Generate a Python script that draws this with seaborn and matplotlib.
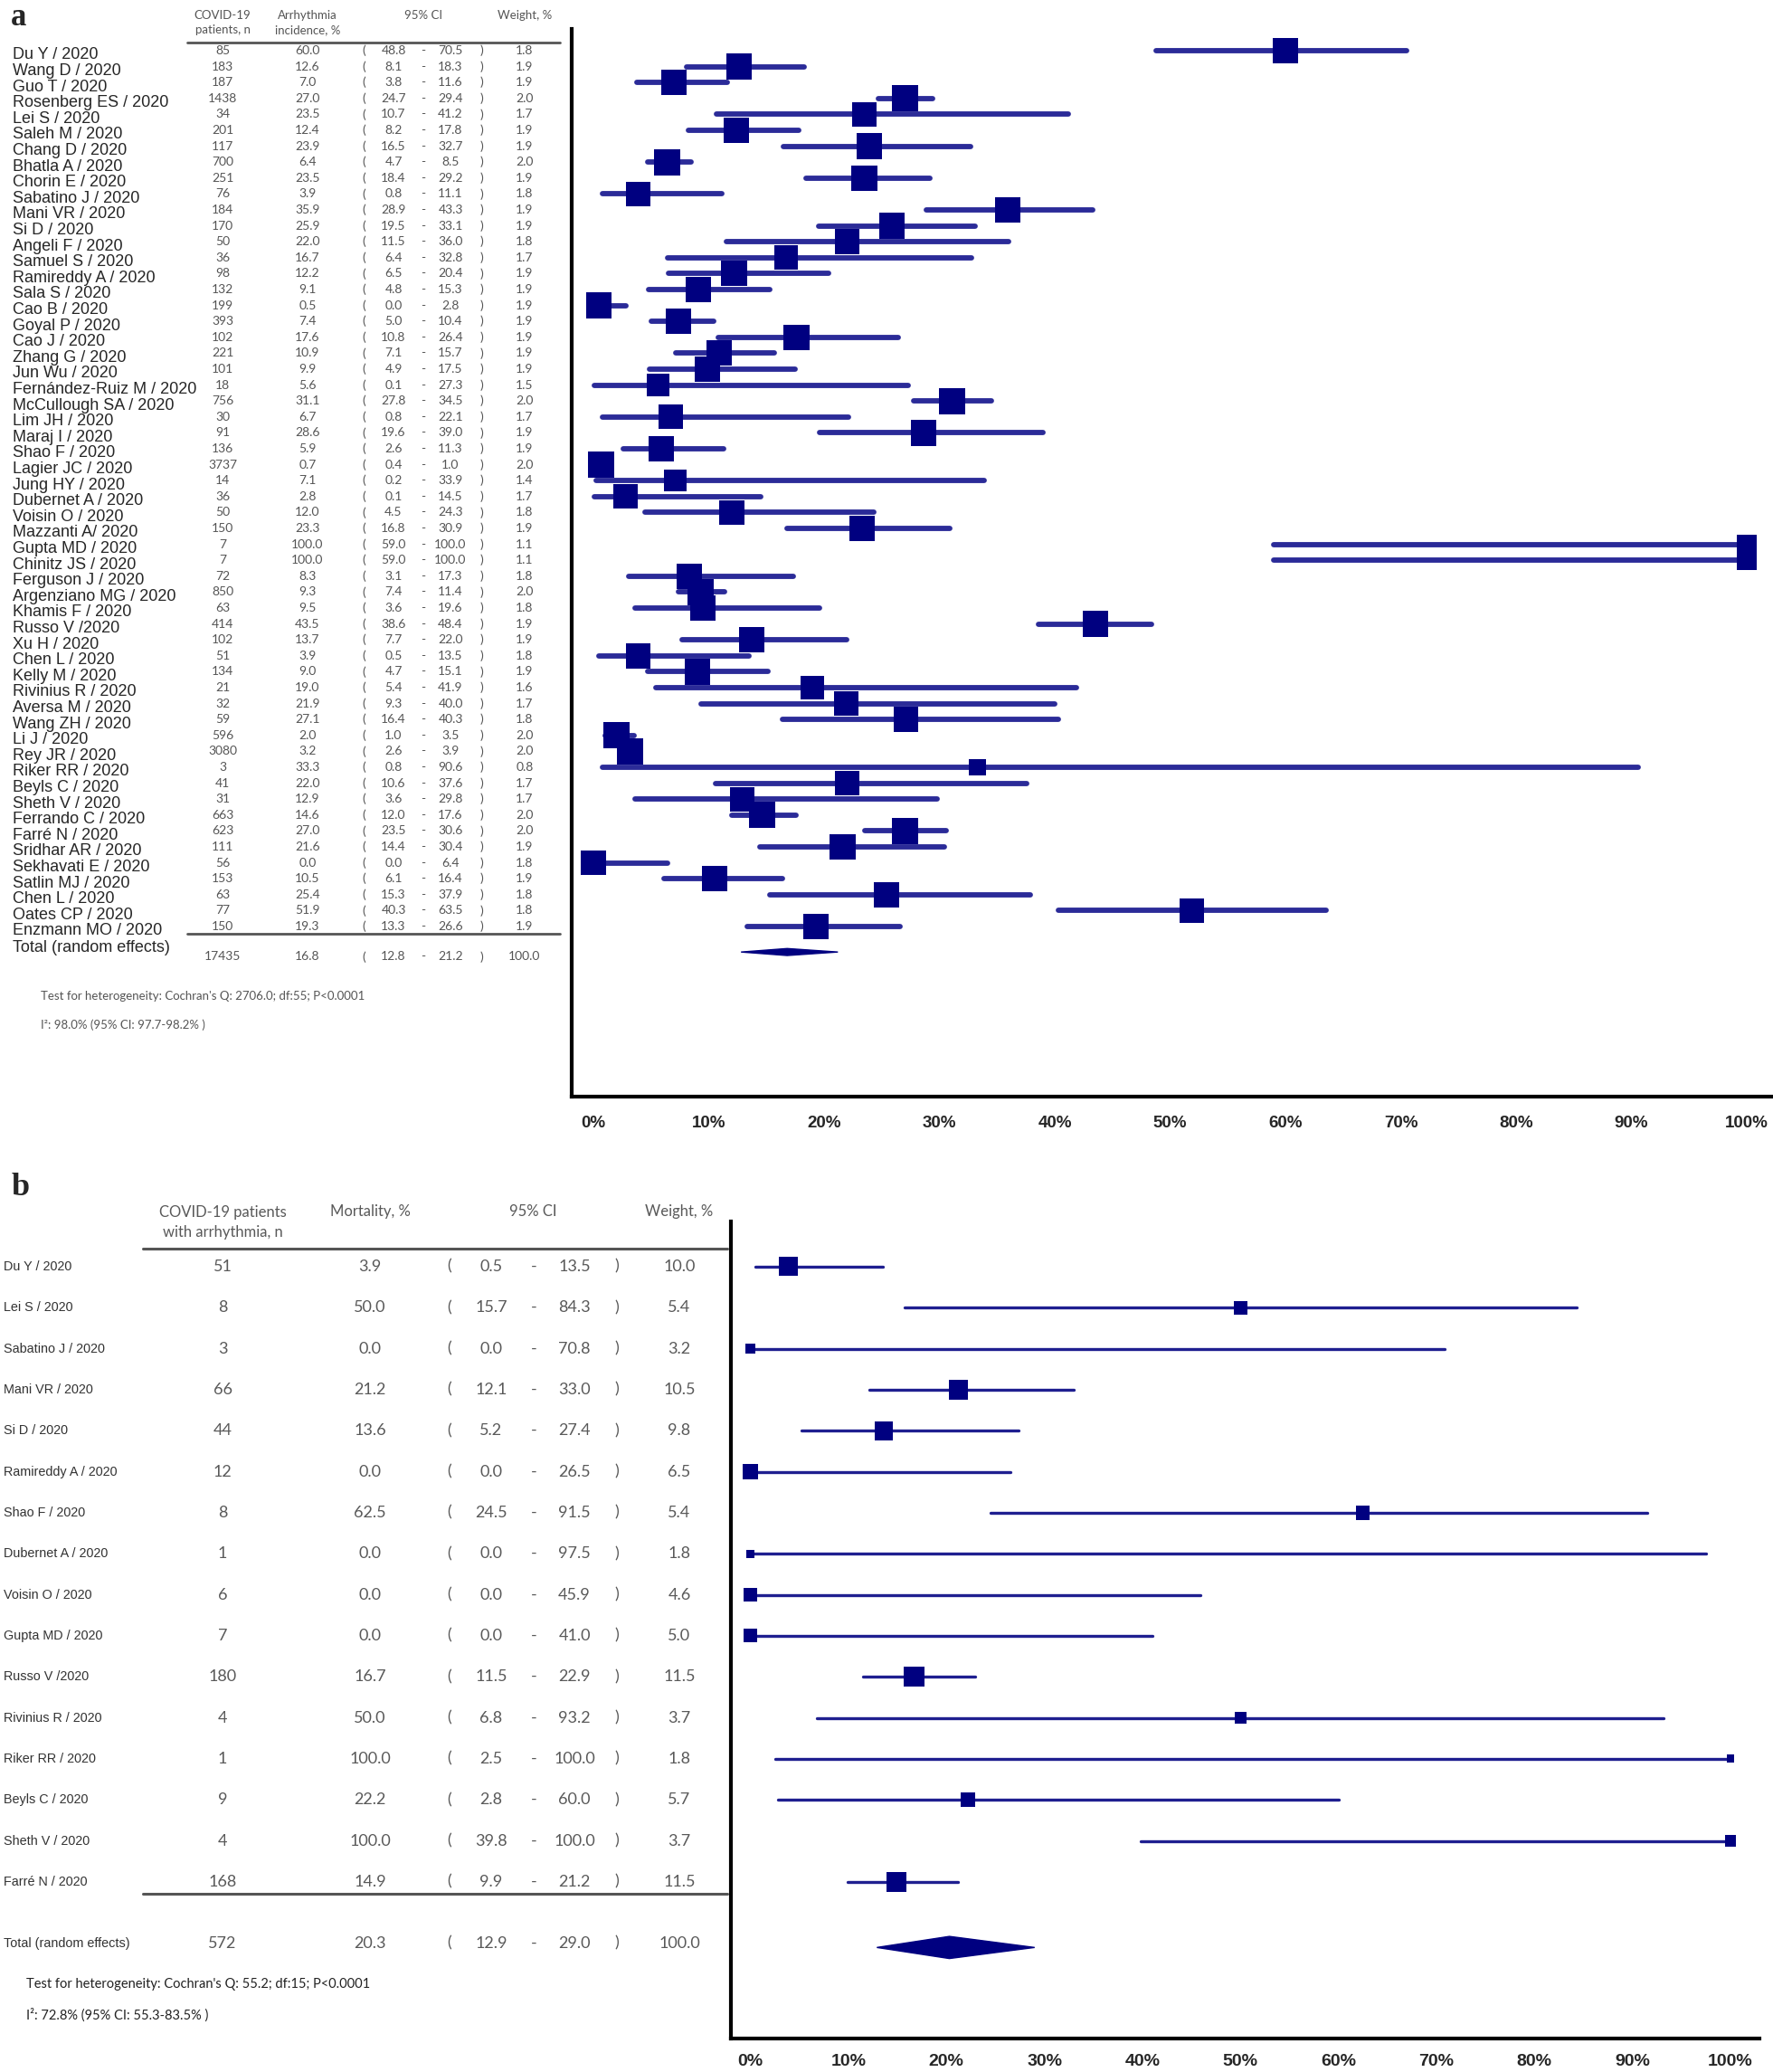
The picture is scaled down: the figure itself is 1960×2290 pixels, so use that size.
import numpy as np
import pandas as pd
import matplotlib
matplotlib.use("Agg")
import matplotlib.pyplot as plt
import matplotlib.transforms as mtransforms
from matplotlib import font_manager as fm
import seaborn as sns

# ------------------------------------------------------------------ data (panel a)
a_study = ["Du Y / 2020", "Wang D / 2020", "Guo T / 2020", "Rosenberg ES / 2020", "Lei S / 2020",
           "Saleh M / 2020", "Chang D / 2020", "Bhatla A / 2020", "Chorin E / 2020", "Sabatino J / 2020",
           "Mani VR / 2020", "Si D / 2020", "Angeli F / 2020", "Samuel S / 2020", "Ramireddy A / 2020",
           "Sala S / 2020", "Cao B / 2020", "Goyal P / 2020", "Cao J / 2020", "Zhang G / 2020",
           "Jun Wu / 2020", "Fernández-Ruiz M / 2020", "McCullough SA / 2020", "Lim JH / 2020",
           "Maraj I / 2020", "Shao F / 2020", "Lagier JC / 2020", "Jung HY / 2020", "Dubernet A / 2020",
           "Voisin O / 2020", "Mazzanti A/ 2020", "Gupta MD / 2020", "Chinitz JS / 2020",
           "Ferguson J / 2020", "Argenziano MG / 2020", "Khamis F / 2020", "Russo V /2020",
           "Xu H / 2020", "Chen L / 2020", "Kelly M / 2020", "Rivinius R / 2020", "Aversa M / 2020",
           "Wang ZH / 2020", "Li J / 2020", "Rey JR / 2020", "Riker RR / 2020", "Beyls C / 2020",
           "Sheth V / 2020", "Ferrando C / 2020", "Farré N / 2020", "Sridhar AR / 2020",
           "Sekhavati E / 2020", "Satlin MJ / 2020", "Chen L / 2020", "Oates CP / 2020",
           "Enzmann MO / 2020"]
a_n = [85, 183, 187, 1438, 34, 201, 117, 700, 251, 76, 184, 170, 50, 36, 98, 132, 199, 393, 102, 221,
       101, 18, 756, 30, 91, 136, 3737, 14, 36, 50, 150, 7, 7, 72, 850, 63, 414, 102, 51, 134, 21, 32,
       59, 596, 3080, 3, 41, 31, 663, 623, 111, 56, 153, 63, 77, 150]
a_est = [60.0, 12.6, 7.0, 27.0, 23.5, 12.4, 23.9, 6.4, 23.5, 3.9, 35.9, 25.9, 22.0, 16.7, 12.2, 9.1, 0.5,
         7.4, 17.6, 10.9, 9.9, 5.6, 31.1, 6.7, 28.6, 5.9, 0.7, 7.1, 2.8, 12.0, 23.3, 100.0, 100.0, 8.3,
         9.3, 9.5, 43.5, 13.7, 3.9, 9.0, 19.0, 21.9, 27.1, 2.0, 3.2, 33.3, 22.0, 12.9, 14.6, 27.0, 21.6,
         0.0, 10.5, 25.4, 51.9, 19.3]
a_lo = [48.8, 8.1, 3.8, 24.7, 10.7, 8.2, 16.5, 4.7, 18.4, 0.8, 28.9, 19.5, 11.5, 6.4, 6.5, 4.8, 0.0,
        5.0, 10.8, 7.1, 4.9, 0.1, 27.8, 0.8, 19.6, 2.6, 0.4, 0.2, 0.1, 4.5, 16.8, 59.0, 59.0, 3.1, 7.4,
        3.6, 38.6, 7.7, 0.5, 4.7, 5.4, 9.3, 16.4, 1.0, 2.6, 0.8, 10.6, 3.6, 12.0, 23.5, 14.4, 0.0, 6.1,
        15.3, 40.3, 13.3]
a_hi = [70.5, 18.3, 11.6, 29.4, 41.2, 17.8, 32.7, 8.5, 29.2, 11.1, 43.3, 33.1, 36.0, 32.8, 20.4, 15.3,
        2.8, 10.4, 26.4, 15.7, 17.5, 27.3, 34.5, 22.1, 39.0, 11.3, 1.0, 33.9, 14.5, 24.3, 30.9, 100.0,
        100.0, 17.3, 11.4, 19.6, 48.4, 22.0, 13.5, 15.1, 41.9, 40.0, 40.3, 3.5, 3.9, 90.6, 37.6, 29.8,
        17.6, 30.6, 30.4, 6.4, 16.4, 37.9, 63.5, 26.6]
a_weight = [1.8, 1.9, 1.9, 2.0, 1.7, 1.9, 1.9, 2.0, 1.9, 1.8, 1.9, 1.9, 1.8, 1.7, 1.9, 1.9, 1.9, 1.9, 1.9,
            1.9, 1.9, 1.5, 2.0, 1.7, 1.9, 1.9, 2.0, 1.4, 1.7, 1.8, 1.9, 1.1, 1.1, 1.8, 2.0, 1.8, 1.9,
            1.9, 1.8, 1.9, 1.6, 1.7, 1.8, 2.0, 2.0, 0.8, 1.7, 1.7, 2.0, 2.0, 1.9, 1.8, 1.9, 1.8, 1.8, 1.9]
a_total = [17435, 16.8, 12.8, 21.2, 100.0]          # n, estimate, low, high, weight
a_headers = ["COVID-19\npatients, n", "Arrhythmia\nincidence, %", "95% CI", "Weight, %"]
a_het = "Test for heterogeneity: Cochran's Q: 2706.0; df:55; P<0.0001"
a_i2 = "I²: 98.0% (95% CI: 97.7-98.2% )"

# ------------------------------------------------------------------ data (panel b)
b_study = ["Du Y / 2020", "Lei S / 2020", "Sabatino J / 2020", "Mani VR / 2020", "Si D / 2020",
           "Ramireddy A / 2020", "Shao F / 2020", "Dubernet A / 2020", "Voisin O / 2020",
           "Gupta MD / 2020", "Russo V /2020", "Rivinius R / 2020", "Riker RR / 2020", "Beyls C / 2020",
           "Sheth V / 2020", "Farré N / 2020"]
b_n = [51, 8, 3, 66, 44, 12, 8, 1, 6, 7, 180, 4, 1, 9, 4, 168]
b_est = [3.9, 50.0, 0.0, 21.2, 13.6, 0.0, 62.5, 0.0, 0.0, 0.0, 16.7, 50.0, 100.0, 22.2, 100.0, 14.9]
b_lo = [0.5, 15.7, 0.0, 12.1, 5.2, 0.0, 24.5, 0.0, 0.0, 0.0, 11.5, 6.8, 2.5, 2.8, 39.8, 9.9]
b_hi = [13.5, 84.3, 70.8, 33.0, 27.4, 26.5, 91.5, 97.5, 45.9, 41.0, 22.9, 93.2, 100.0, 60.0, 100.0, 21.2]
b_weight = [10.0, 5.4, 3.2, 10.5, 9.8, 6.5, 5.4, 1.8, 4.6, 5.0, 11.5, 3.7, 1.8, 5.7, 3.7, 11.5]
b_total = [572, 20.3, 12.9, 29.0, 100.0]
b_headers = ["COVID-19 patients\nwith arrhythmia, n", "Mortality, %", "95% CI", "Weight, %"]
b_het = "Test for heterogeneity: Cochran's Q: 55.2; df:15; P<0.0001"
b_i2 = "I²: 72.8% (95% CI: 55.3-83.5% )"

tick_values = [0, 10, 20, 30, 40, 50, 60, 70, 80, 90, 100]
tick_labels = ["0%", "10%", "20%", "30%", "40%", "50%", "60%", "70%", "80%", "90%", "100%"]
minor_ticks = [10, 30, 50, 70, 90]

# ------------------------------------------------------------------ styling
sns.set_theme(style="white")
avail = {f.name for f in fm.fontManager.ttflist}
SANS = ["Liberation Sans", "DejaVu Sans"]
NUM = ["Lato", "Open Sans", "DejaVu Sans"]
NARROW = "Liberation Sans Narrow" in avail
plt.rcParams["font.family"] = SANS

W, H = 1960, 2290
fig = plt.figure(figsize=(W / 100, H / 100), dpi=100)


def fx(px):
    return px / W


NAVY = "#000080"


def draw_forest(ax, est, lo, hi, weight, total, k_side, lw, line_color, diamond_h):
    rows = np.arange(len(est))
    df = pd.DataFrame({"est": est, "lo": lo, "hi": hi, "w": weight, "row": rows})
    side_pt = k_side * np.sqrt(df["w"].to_numpy()) * 0.72
    ax.hlines(df["row"], df["lo"], df["hi"], color=line_color, lw=lw, capstyle="round", zorder=2)
    sns.scatterplot(data=df, x="est", y="row", marker="s", s=side_pt ** 2, color=NAVY,
                    linewidth=0, legend=False, ax=ax, zorder=3)
    ty = len(est) + 0.6
    n_t, e_t, l_t, h_t, w_t = total
    ax.fill([l_t, e_t, h_t, e_t], [ty, ty - diamond_h, ty, ty + diamond_h], color=NAVY, zorder=3)
    return ty


def style_axis(ax, xlim, ylim, pad, minor_len, label_size):
    ax.set_xlim(*xlim)
    ax.set_ylim(*ylim)
    ax.set_xlabel("")
    ax.set_ylabel("")
    ax.set_yticks([])
    ax.set_xticks(tick_values)
    ax.set_xticklabels(tick_labels, fontsize=label_size, fontweight="bold", family=SANS)
    ax.set_xticks(minor_ticks, minor=True)
    ax.tick_params(axis="x", which="major", length=0, pad=pad)
    ax.tick_params(axis="x", which="minor", direction="in", length=minor_len, width=1.4,
                   color="black", bottom=True)
    for s in ["top", "right"]:
        ax.spines[s].set_visible(False)
    for s in ["left", "bottom"]:
        ax.spines[s].set_color("black")
        ax.spines[s].set_linewidth(3.0)
    ax.grid(False)
    ax.set_facecolor("white")


# ================================================================== panel a
axA = fig.add_axes([fx(632), 1 - 1212 / H, fx(W - 632), (1212 - 32) / H])
tyA = draw_forest(axA, a_est, a_lo, a_hi, a_weight, a_total, 20.5, 4.2, "#2b2b98", 0.22)
style_axis(axA, (-1.88, 102.27), (65.68, -1.36), 15, 8.5, 13.5)

tA = mtransforms.blended_transform_factory(fig.transFigure, axA.transData)
num_kw = dict(transform=tA, ha="center", va="center", fontsize=10, family=NUM, color="#555555")
colsA = [246, 340, 402, 435, 468, 498, 532, 580]


def row_cells(vals, y, cols, kw):
    n, e, l, h, w = vals
    cells = [f"{n}", f"{e:.1f}", "(", f"{l:.1f}", "-", f"{h:.1f}", ")", f"{w:.1f}"]
    for c, t in zip(cols, cells):
        fig.text(fx(c), y, t, **kw)


for i, name in enumerate(a_study):
    fig.text(fx(14), i + 0.28, name, transform=tA, ha="left", va="center", fontsize=13,
             family=SANS, color="#262626")
    row_cells((a_n[i], a_est[i], a_lo[i], a_hi[i], a_weight[i]), i, colsA, num_kw)

fig.text(fx(14), tyA - 0.25, "Total (random effects)", transform=tA, ha="left", va="center",
         fontsize=13, family=SANS, color="#262626")
row_cells(a_total, tyA + 0.3, colsA, num_kw)

hdr_kw = dict(transform=tA, ha="center", va="center", fontsize=9.5, family=NUM, color="#555555",
              linespacing=1.35)
fig.text(fx(246), -1.75, a_headers[0], **hdr_kw)
fig.text(fx(340), -1.75, a_headers[1], **hdr_kw)
fig.text(fx(468), -2.22, a_headers[2], **hdr_kw)
fig.text(fx(580), -2.22, a_headers[3], **hdr_kw)
fig.add_artist(plt.Line2D([fx(207), fx(619)], [-0.51, -0.51], transform=tA, color="#555555", lw=2))
fig.add_artist(plt.Line2D([fx(207), fx(619)], [55.45, 55.45], transform=tA, color="#555555", lw=2))
fig.text(fx(45), 59.4, a_het, transform=tA, ha="left", va="center", fontsize=9.5, family=NUM,
         color="#555555")
fig.text(fx(45), 61.2, a_i2, transform=tA, ha="left", va="center", fontsize=9.5, family=NUM,
         color="#555555")
fig.text(fx(12), 1 - 3 / H, "a", ha="left", va="top", fontsize=25, fontweight="bold",
         family=["Liberation Serif", "DejaVu Serif"])

# ================================================================== panel b
axB = fig.add_axes([fx(808), 1 - 2253 / H, fx(1945 - 808), (2253 - 1350) / H])
tyB = draw_forest(axB, b_est, b_lo, b_hi, b_weight, b_total, 6.6, 2.4, "#1f1f90", 0.27)
style_axis(axB, (-1.99, 102.95), (18.82, -1.10), 12, 7, 14)

tB = mtransforms.blended_transform_factory(fig.transFigure, axB.transData)
numB_kw = dict(transform=tB, ha="center", va="center", fontsize=13, family=NUM, color="#595959")
colsB = [246, 409, 497, 543, 590, 635, 682, 751]
if NARROW:
    name_fam, name_size = ["Liberation Sans Narrow", "Liberation Sans"], 12.5
else:
    name_fam, name_size = SANS, 10.4

for i, name in enumerate(b_study):
    fig.text(fx(4), i, name, transform=tB, ha="left", va="center", fontsize=name_size,
             family=name_fam, color="#333333")
    row_cells((b_n[i], b_est[i], b_lo[i], b_hi[i], b_weight[i]), i, colsB, numB_kw)

tyB_text = tyB - 0.1
fig.text(fx(4), tyB_text, "Total (random effects)", transform=tB, ha="left", va="center",
         fontsize=name_size, family=name_fam, color="#333333")
row_cells(b_total, tyB_text, colsB, numB_kw)

hdrB_kw = dict(transform=tB, ha="center", va="center", fontsize=12, family=NUM, color="#595959",
               linespacing=1.4)
fig.text(fx(246), -1.08, b_headers[0], **hdrB_kw)
fig.text(fx(409), -1.35, b_headers[1], **hdrB_kw)
fig.text(fx(589), -1.35, b_headers[2], **hdrB_kw)
fig.text(fx(751), -1.35, b_headers[3], **hdrB_kw)
fig.add_artist(plt.Line2D([fx(158), fx(804)], [-0.44, -0.44], transform=tB, color="#555555", lw=2.2))
fig.add_artist(plt.Line2D([fx(158), fx(804)], [15.29, 15.29], transform=tB, color="#555555", lw=2.2))
fig.text(fx(29), 17.49, b_het, transform=tB, ha="left", va="center", fontsize=10.5, family=NUM,
         color="#222222")
fig.text(fx(29), 18.24, b_i2, transform=tB, ha="left", va="center", fontsize=10.5, family=NUM,
         color="#222222")
fig.text(fx(13), 1 - 1296 / H, "b", ha="left", va="top", fontsize=26, fontweight="bold",
         family=["Liberation Serif", "DejaVu Serif"])

fig.savefig("out.png", dpi=100, facecolor="white")
